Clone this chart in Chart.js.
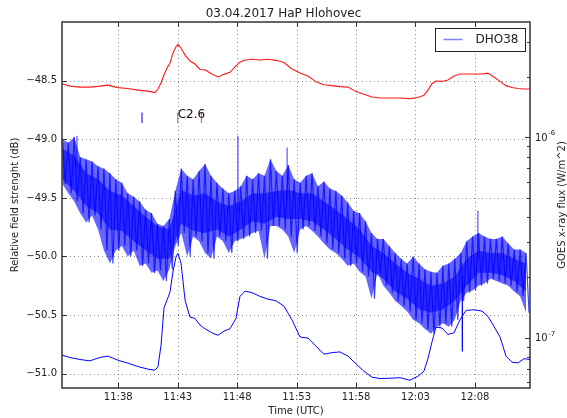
<!DOCTYPE html>
<html>
<head>
<meta charset="utf-8">
<script src="https://cdn.jsdelivr.net/npm/chart.js@4.4.0/dist/chart.umd.min.js"></script>
<style>
  body { margin: 0; background: #fff; }
  #wrap { width: 567px; height: 418px; }
</style>
</head>
<body>
<div id="wrap"><canvas id="vlfChart" width="567" height="418"></canvas></div>
<script>
const FONT = "'DejaVu Sans', sans-serif";
const INK = "#222";

// time axis in minutes after 11:00 UTC
const timeMin = 33.27;
const timeMax = 72.63;
const timeTicks = [38, 43, 48, 53, 58, 63, 68];

const dbTicks = [-51.0, -50.5, -50.0, -49.5, -49.0, -48.5];

// DHO38 signal: upper / lower extremes of the noisy trace every 30 s
const dhoStart = 33.3;
const dhoStep = 0.5;
const dhoHigh = [
  -49.00, -49.03, -48.98, -49.15, -49.17, -49.19, -49.23, -49.25, -49.29, -49.34,
  -49.37, -49.46, -49.49, -49.53, -49.60, -49.63, -49.72, -49.74, -49.68, -49.44,
  -49.25, -49.31, -49.34, -49.27, -49.21, -49.31, -49.37, -49.42, -49.46, -49.44,
  -49.40, -49.31, -49.34, -49.29, -49.31, -49.17, -49.27, -49.31, -49.22, -49.34,
  -49.37, -49.31, -49.29, -49.40, -49.36, -49.42, -49.44, -49.48, -49.54, -49.61,
  -49.63, -49.70, -49.80, -49.85, -49.85, -49.91, -49.97, -50.02, -50.06, -50.00,
  -50.06, -50.11, -50.13, -50.14, -50.08, -50.06, -50.02, -49.97, -49.87, -49.83,
  -49.80, -49.83, -49.85, -49.85, -49.83, -49.89, -49.94, -49.94, -49.97
];
const dhoLow = [
  -49.38, -49.46, -49.53, -49.63, -49.71, -49.65, -49.77, -49.95, -50.06, -49.95,
  -49.91, -50.00, -49.95, -50.08, -50.06, -50.14, -50.12, -50.21, -50.11, -49.91,
  -49.80, -50.00, -49.83, -49.87, -49.97, -50.02, -49.83, -49.87, -49.97, -49.87,
  -49.85, -49.83, -49.80, -49.78, -50.02, -49.74, -49.74, -49.77, -49.83, -49.97,
  -49.77, -49.74, -49.78, -49.83, -49.89, -49.94, -49.97, -50.02, -50.08, -50.06,
  -50.13, -50.17, -50.36, -50.14, -50.25, -50.31, -50.38, -50.42, -50.47, -50.54,
  -50.57, -50.62, -50.66, -50.60, -50.57, -50.60, -50.54, -50.38, -50.31, -50.29,
  -50.25, -50.23, -50.19, -50.21, -50.23, -50.25, -50.30, -50.34, -50.48
];
// dense core of the trace, one value pair per minute
const coreStart = 33.3;
const coreStep = 1;
const coreHigh = [
  -49.08, -49.14, -49.29, -49.34, -49.44, -49.48, -49.57, -49.66, -49.74, -49.77,
  -49.43, -49.48, -49.46, -49.53, -49.57, -49.53, -49.46, -49.46, -49.44, -49.43,
  -49.46, -49.46, -49.53, -49.60, -49.68, -49.77, -49.91, -49.97, -50.06, -50.14,
  -50.19, -50.25, -50.23, -50.17, -50.02, -49.95, -49.97, -49.97, -50.02, -50.06
];
const coreLow = [
  -49.34, -49.44, -49.57, -49.63, -49.77, -49.78, -49.87, -49.95, -50.02, -50.02,
  -49.72, -49.78, -49.80, -49.77, -49.83, -49.77, -49.70, -49.72, -49.66, -49.68,
  -49.68, -49.70, -49.77, -49.85, -49.94, -50.01, -50.13, -50.19, -50.30, -50.36,
  -50.45, -50.48, -50.45, -50.38, -50.25, -50.14, -50.14, -50.16, -50.21, -50.30
];
// isolated spikes outside the band
const dhoSpikeMinutes = [34.53, 48.07, 52.2, 66.94, 68.25];
const dhoSpikeValues = [-48.97, -48.97, -49.07, -50.81, -49.61];

// GOES x-ray flux (W/m^2)
const goesMinutes = [
  33.27, 33.94, 34.78, 35.62, 36.46, 37.13, 37.97, 38.81, 39.65, 40.50,
  41.09, 41.34, 41.60, 41.85, 42.10, 42.35, 42.60, 42.86, 43.02, 43.28,
  43.62, 44.03, 44.45, 44.87, 45.29, 45.88, 46.39, 46.89, 47.40, 47.90,
  48.24, 48.66, 49.25, 49.92, 50.59, 51.27, 51.94, 52.61, 53.29, 53.96,
  54.63, 55.30, 55.97, 56.65, 57.32, 57.99, 58.66, 59.34, 60.01, 60.85,
  61.69, 62.53, 63.21, 63.71, 64.05, 64.39, 64.72, 65.23, 65.73, 66.24,
  66.74, 67.25, 67.92, 68.59, 69.10, 69.60, 70.11, 70.61, 71.12, 71.62,
  72.13, 72.63
];
const goesLong = [
  1.85e-6, 1.80e-6, 1.78e-6, 1.78e-6, 1.80e-6, 1.82e-6, 1.77e-6, 1.75e-6, 1.72e-6, 1.70e-6,
  1.67e-6, 1.74e-6, 1.87e-6, 2.05e-6, 2.21e-6, 2.34e-6, 2.63e-6, 2.83e-6, 2.91e-6, 2.79e-6,
  2.57e-6, 2.40e-6, 2.32e-6, 2.18e-6, 2.17e-6, 2.07e-6, 2.00e-6, 2.06e-6, 2.11e-6, 2.27e-6,
  2.37e-6, 2.43e-6, 2.45e-6, 2.43e-6, 2.45e-6, 2.42e-6, 2.36e-6, 2.19e-6, 2.09e-6, 2.02e-6,
  1.89e-6, 1.83e-6, 1.81e-6, 1.79e-6, 1.78e-6, 1.69e-6, 1.64e-6, 1.59e-6, 1.57e-6, 1.57e-6,
  1.57e-6, 1.56e-6, 1.58e-6, 1.62e-6, 1.72e-6, 1.85e-6, 1.91e-6, 1.90e-6, 1.93e-6, 2.02e-6,
  2.07e-6, 2.07e-6, 2.07e-6, 2.07e-6, 2.09e-6, 2.00e-6, 1.90e-6, 1.81e-6, 1.77e-6, 1.75e-6,
  1.74e-6, 1.74e-6
];
const goesShort = [
  8.20e-8, 7.98e-8, 7.80e-8, 7.68e-8, 7.98e-8, 8.11e-8, 7.74e-8, 7.48e-8, 7.20e-8, 6.98e-8,
  6.90e-8, 7.17e-8, 9.19e-8, 1.41e-7, 1.54e-7, 1.69e-7, 2.13e-7, 2.53e-7, 2.64e-7, 2.36e-7,
  1.54e-7, 1.27e-7, 1.25e-7, 1.16e-7, 1.11e-7, 1.06e-7, 1.03e-7, 1.08e-7, 1.11e-7, 1.25e-7,
  1.61e-7, 1.71e-7, 1.68e-7, 1.61e-7, 1.56e-7, 1.53e-7, 1.44e-7, 1.23e-7, 1.01e-7, 9.97e-8,
  9.09e-8, 8.29e-8, 8.44e-8, 8.51e-8, 8.11e-8, 7.43e-8, 6.82e-8, 6.37e-8, 6.27e-8, 6.29e-8,
  6.33e-8, 6.15e-8, 6.44e-8, 6.82e-8, 7.89e-8, 9.55e-8, 1.13e-7, 1.12e-7, 1.04e-7, 1.06e-7,
  1.23e-7, 1.37e-7, 1.38e-7, 1.36e-7, 1.28e-7, 1.14e-7, 1.01e-7, 8.11e-8, 7.56e-8, 7.50e-8,
  7.87e-8, 7.80e-8
];

// flare start / peak / end
const flareMinutes = [40.0, 43.0, 45.0];
const flareColors = ["rgba(0,0,255,0.8)", "rgba(0,128,0,0.6)", "rgba(255,0,0,0.6)"];
const flareMarkTop = -48.77;
const flareMarkBottom = -48.86;
const flareClass = "C2.6";

const fluxMin = Math.pow(10, -7.25);
const fluxMax = Math.pow(10, -5.425);

function clock(m) {
  const h = 11 + Math.floor(m / 60);
  const mm = Math.round(m % 60);
  return h + ":" + String(mm).padStart(2, "0");
}

// build the point lists
const dhoTimes = dhoHigh.map((_, i) => dhoStart + i * dhoStep);
const bandTop = dhoTimes.map((t, i) => ({ x: t, y: dhoHigh[i] }));
const bandBottom = dhoTimes.map((t, i) => ({ x: t, y: dhoLow[i] }));
const coreTimes = coreHigh.map((_, i) => coreStart + i * coreStep);
const coreTop = coreTimes.map((t, i) => ({ x: t, y: coreHigh[i] }));
const coreBottom = coreTimes.map((t, i) => ({ x: t, y: coreLow[i] }));

const zigzag = [];
dhoTimes.forEach((t, i) => {
  zigzag.push({ x: t, y: dhoHigh[i] });
  zigzag.push({ x: t + dhoStep / 2, y: dhoLow[i] });
});

const spikes = [];
dhoSpikeMinutes.forEach((t, k) => {
  const i = Math.min(dhoHigh.length - 1, Math.max(0, Math.round((t - dhoStart) / dhoStep)));
  const base = (dhoHigh[i] + dhoLow[i]) / 2;
  spikes.push({ x: t, y: base }, { x: t, y: dhoSpikeValues[k] }, { x: t, y: null });
});

const flareSets = flareMinutes.map((t, k) => ({
  data: [{ x: t, y: flareMarkTop }, { x: t, y: flareMarkBottom }],
  borderColor: flareColors[k],
  borderWidth: 1.3,
  pointRadius: 0,
  yAxisID: "y",
  order: 0
}));

const lineBase = { pointRadius: 0, tension: 0, fill: false, spanGaps: false };
const noEdge = { borderWidth: 0, borderColor: "rgba(0,0,0,0)" };

// frame, inward ticks, dotted grid, legend and right-hand labels
const axesDecor = {
  id: "axesDecor",
  beforeDatasetsDraw(chart) {
    const { ctx, chartArea: a, scales } = chart;
    ctx.save();
    ctx.strokeStyle = "rgba(0,0,0,0.45)";
    ctx.lineWidth = 1;
    ctx.setLineDash([1, 3]);
    ctx.beginPath();
    timeTicks.forEach(m => {
      const x = Math.round(scales.x.getPixelForValue(m)) + 0.5;
      ctx.moveTo(x, a.top);
      ctx.lineTo(x, a.bottom);
    });
    dbTicks.forEach(v => {
      const y = Math.round(scales.y.getPixelForValue(v)) + 0.5;
      ctx.moveTo(a.left, y);
      ctx.lineTo(a.right, y);
    });
    ctx.stroke();
    ctx.restore();
  },
  afterDatasetsDraw(chart) {
    const { ctx, chartArea: a, scales } = chart;
    const flux = scales.flux;
    ctx.save();

    // ticks pointing inwards
    ctx.strokeStyle = "#333";
    ctx.lineWidth = 1;
    ctx.beginPath();
    timeTicks.forEach(m => {
      const x = Math.round(scales.x.getPixelForValue(m)) + 0.5;
      ctx.moveTo(x, a.bottom); ctx.lineTo(x, a.bottom - 5);
      ctx.moveTo(x, a.top); ctx.lineTo(x, a.top + 5);
    });
    dbTicks.forEach(v => {
      const y = Math.round(scales.y.getPixelForValue(v)) + 0.5;
      ctx.moveTo(a.left, y); ctx.lineTo(a.left + 5, y);
    });
    for (let e = -8; e <= -6; e++) {
      for (let d = 1; d <= 9; d++) {
        const v = d * Math.pow(10, e);
        if (v < fluxMin || v > fluxMax) continue;
        const y = Math.round(flux.getPixelForValue(v)) + 0.5;
        const len = d === 1 ? 5 : 3;
        ctx.moveTo(a.right, y); ctx.lineTo(a.right - len, y);
      }
    }
    ctx.stroke();

    // axes frame
    ctx.lineWidth = 1.5;
    ctx.strokeStyle = "#333";
    ctx.strokeRect(a.left, a.top, a.right - a.left, a.bottom - a.top);

    // decade labels on the flux axis
    ctx.fillStyle = INK;
    ctx.textAlign = "left";
    ctx.textBaseline = "middle";
    [-7, -6].forEach(e => {
      const y = flux.getPixelForValue(Math.pow(10, e));
      ctx.font = "10px " + FONT;
      ctx.fillText("10", a.right + 5, y + 1);
      const w = ctx.measureText("10").width;
      ctx.font = "7px " + FONT;
      ctx.fillText("-" + Math.abs(e), a.right + 5 + w + 0.5, y - 4);
    });

    // flux axis title, reading upwards
    ctx.save();
    ctx.translate(562, (a.top + a.bottom) / 2);
    ctx.rotate(-Math.PI / 2);
    ctx.textAlign = "center";
    ctx.font = "10px " + FONT;
    ctx.fillText("GOES x-ray flux (W/m^2)", 0, 0);
    ctx.restore();

    // flare class next to the peak marker
    ctx.font = "12px " + FONT;
    ctx.textBaseline = "alphabetic";
    ctx.fillStyle = "#111";
    ctx.fillText(flareClass, scales.x.getPixelForValue(flareMinutes[1]),
      scales.y.getPixelForValue((flareMarkTop + flareMarkBottom) / 2) + 0.5);

    // legend
    const lx = 435.5, ly = 28.5, lw = 90, lh = 23;
    ctx.fillStyle = "#fff";
    ctx.fillRect(lx, ly, lw, lh);
    ctx.lineWidth = 1;
    ctx.strokeStyle = "#222";
    ctx.strokeRect(lx, ly, lw, lh);
    ctx.strokeStyle = "rgba(0,0,255,0.5)";
    ctx.lineWidth = 1.5;
    ctx.beginPath();
    ctx.moveTo(lx + 8, ly + 11);
    ctx.lineTo(lx + 27, ly + 11);
    ctx.stroke();
    ctx.fillStyle = INK;
    ctx.font = "12px " + FONT;
    ctx.textBaseline = "middle";
    ctx.fillText("DHO38", lx + 40, ly + 11.5);

    ctx.restore();
  }
};

new Chart(document.getElementById("vlfChart"), {
  type: "line",
  data: {
    datasets: [
      { ...lineBase, ...noEdge, data: bandTop, yAxisID: "y", order: 7 },
      { ...lineBase, ...noEdge, data: bandBottom, fill: "-1",
        backgroundColor: "rgba(0,0,255,0.6)", yAxisID: "y", order: 7 },
      { ...lineBase, ...noEdge, data: coreTop, yAxisID: "y", order: 6 },
      { ...lineBase, ...noEdge, data: coreBottom, fill: "-1",
        backgroundColor: "rgba(0,0,255,0.6)", yAxisID: "y", order: 6 },
      { ...lineBase, label: "DHO38", data: zigzag, borderColor: "rgba(0,0,255,0.75)", borderWidth: 1.2, yAxisID: "y", order: 4 },
      { ...lineBase, data: spikes, borderColor: "rgba(0,0,255,0.8)", borderWidth: 1, yAxisID: "y", order: 4 },
      { ...lineBase, data: goesMinutes.map((t, i) => ({ x: t, y: goesShort[i] })),
        borderColor: "#0000ff", borderWidth: 1, yAxisID: "flux", order: 1 },
      { ...lineBase, data: goesMinutes.map((t, i) => ({ x: t, y: goesLong[i] })),
        borderColor: "#ff1a1a", borderWidth: 1.1, yAxisID: "flux", order: 1 },
      ...flareSets
    ]
  },
  options: {
    responsive: false,
    animation: false,
    events: [],
    layout: { padding: 0 },
    plugins: {
      legend: { display: false },
      tooltip: { enabled: false },
      title: {
        display: true,
        text: "03.04.2017 HaP Hlohovec",
        color: INK,
        font: { family: FONT, size: 12, weight: "normal" },
        padding: { top: 7, bottom: 0.6 }
      }
    },
    scales: {
      x: {
        type: "linear",
        min: timeMin,
        max: timeMax,
        afterBuildTicks: s => { s.ticks = timeTicks.map(v => ({ value: v })); },
        afterFit: s => { s.height = 30; },
        grid: { display: false, drawTicks: false },
        border: { display: false },
        ticks: {
          color: INK, font: { family: FONT, size: 10 }, padding: 3,
          maxRotation: 0, autoSkip: false, callback: v => clock(v)
        },
        title: {
          display: true, text: "Time (UTC)", color: INK,
          font: { family: FONT, size: 10 }, padding: { top: 0, bottom: 1 }
        }
      },
      y: {
        type: "linear",
        position: "left",
        min: -51.123,
        max: -47.998,
        afterBuildTicks: s => { s.ticks = dbTicks.map(v => ({ value: v })); },
        afterFit: s => { s.width = 62; },
        grid: { display: false, drawTicks: false },
        border: { display: false },
        ticks: {
          color: INK, font: { family: FONT, size: 10 }, padding: 5,
          callback: v => "\u2212" + Math.abs(v).toFixed(1)
        },
        title: {
          display: true, text: "Relative field strenght (dB)", color: INK,
          font: { family: FONT, size: 10 }, padding: { top: 9, bottom: 0 }
        }
      },
      flux: {
        type: "logarithmic",
        position: "right",
        min: fluxMin,
        max: fluxMax,
        afterFit: s => { s.width = 37; },
        grid: { display: false, drawTicks: false },
        border: { display: false },
        ticks: { display: false }
      }
    }
  },
  plugins: [axesDecor]
});
</script>
</body>
</html>
